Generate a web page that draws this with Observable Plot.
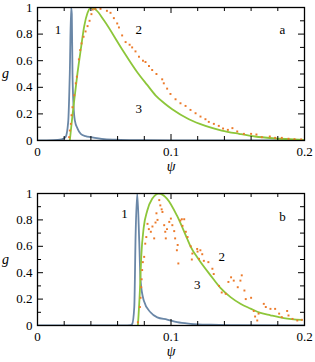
<!DOCTYPE html>
<html><head>
<meta charset="utf-8">
<script src="https://cdn.jsdelivr.net/npm/d3@7"></script>
<script src="https://cdn.jsdelivr.net/npm/@observablehq/plot@0.6"></script>
<style>
body{margin:0;background:#fff;}
#chart svg{display:block;}
#chart svg, #chart svg text, #chart svg g{font-family:"Liberation Serif", serif !important;}
</style>
</head><body><div id="chart"></div>
<script>
// ---- data (psi, g) ----
const aCurve1 = [[0,0],[0.012,0.002],[0.018,0.008],[0.021,0.025],[0.023,0.14],[0.0242,0.51],[0.0252,1.0],[0.0257,0.95],[0.0262,0.51],[0.027,0.26],[0.028,0.15],[0.030,0.09],[0.0324,0.05],[0.036,0.033],[0.040,0.025],[0.05,0.01],[0.062,0.005],[0.08,0.002],[0.1,0.001],[0.2,0]];
const aCurve3 = [[0.0242,0],[0.0262,0.19],[0.0282,0.36],[0.030,0.51],[0.0325,0.69],[0.035,0.86],[0.0375,0.96],[0.040,1.0],[0.044,0.98],[0.05,0.90],[0.0625,0.70],[0.075,0.51],[0.082,0.42],[0.0884,0.34],[0.095,0.28],[0.1009,0.235],[0.1134,0.16],[0.1258,0.11],[0.138,0.075],[0.151,0.050],[0.163,0.030],[0.176,0.017],[0.2,0.005]];
const aCurve2 = [[0.0237,0.025],[0.0242,0.075],[0.025,0.125],[0.0255,0.19],[0.0262,0.25],[0.0275,0.34],[0.0287,0.43],[0.0295,0.48],[0.031,0.61],[0.032,0.68],[0.033,0.73],[0.0345,0.78],[0.036,0.82],[0.0375,0.86],[0.039,0.90],[0.0404,0.95],[0.0414,0.985],[0.0434,0.99],[0.0472,0.99],[0.052,0.975],[0.0547,0.96],[0.0572,0.92],[0.0597,0.88],[0.061,0.85],[0.0634,0.79],[0.066,0.74],[0.069,0.72],[0.0709,0.70],[0.0734,0.67],[0.076,0.63],[0.079,0.60],[0.0809,0.59],[0.0835,0.56],[0.0859,0.53],[0.0891,0.50],[0.0934,0.46],[0.0946,0.43],[0.0971,0.39],[0.0996,0.35],[0.1034,0.31],[0.1071,0.28],[0.1109,0.26],[0.1146,0.23],[0.1184,0.205],[0.1221,0.18],[0.1258,0.16],[0.1283,0.14],[0.1321,0.125],[0.1358,0.11],[0.139,0.09],[0.1426,0.08],[0.146,0.093],[0.1496,0.068],[0.1546,0.05],[0.16,0.05],[0.164,0.045],[0.168,0.025],[0.174,0.03],[0.178,0.02],[0.183,0.02],[0.188,0.013],[0.1925,0.01],[0.1975,0.008]];

const bCurve1 = [[0,0],[0.065,0],[0.0697,0.003],[0.0709,0.01],[0.0725,0.14],[0.0735,0.69],[0.0747,1.0],[0.0762,0.64],[0.0772,0.34],[0.0796,0.19],[0.0846,0.10],[0.0897,0.062],[0.0971,0.045],[0.1046,0.025],[0.1146,0.013],[0.13,0.006],[0.15,0.003],[0.2,0]];
const bCurve3 = [[0.0752,0],[0.0767,0.265],[0.0777,0.52],[0.0796,0.745],[0.0822,0.87],[0.0859,0.96],[0.0909,1.0],[0.0971,0.96],[0.1046,0.83],[0.112,0.66],[0.1146,0.60],[0.1208,0.50],[0.1296,0.38],[0.137,0.285],[0.1446,0.215],[0.152,0.165],[0.1596,0.128],[0.167,0.095],[0.1745,0.077],[0.1845,0.056],[0.198,0.042]];
const bCurve2 = [[0.0752,0.025],[0.0767,0.14],[0.0772,0.21],[0.0777,0.29],[0.078,0.35],[0.0784,0.42],[0.0789,0.48],[0.0799,0.52],[0.0807,0.62],[0.0815,0.67],[0.0824,0.77],[0.0834,0.73],[0.0849,0.71],[0.0861,0.75],[0.0874,0.66],[0.0884,0.78],[0.0891,0.85],[0.0899,0.80],[0.0912,0.95],[0.092,0.91],[0.093,0.88],[0.0936,0.86],[0.0949,0.76],[0.0957,0.71],[0.0961,0.66],[0.097,0.73],[0.0987,0.785],[0.0999,0.81],[0.101,0.76],[0.1024,0.715],[0.1031,0.66],[0.1044,0.57],[0.105,0.61],[0.1055,0.47],[0.107,0.795],[0.1081,0.805],[0.1086,0.755],[0.1099,0.805],[0.1111,0.71],[0.1124,0.67],[0.1148,0.60],[0.1156,0.50],[0.116,0.545],[0.1196,0.58],[0.1199,0.56],[0.121,0.505],[0.122,0.57],[0.1234,0.54],[0.1246,0.49],[0.128,0.48],[0.131,0.43],[0.132,0.39],[0.136,0.30],[0.138,0.25],[0.141,0.24],[0.143,0.33],[0.145,0.365],[0.147,0.34],[0.15,0.29],[0.152,0.34],[0.153,0.38],[0.155,0.265],[0.156,0.20],[0.16,0.21],[0.162,0.11],[0.163,0.068],[0.1646,0.038],[0.1656,0.09],[0.1695,0.164],[0.171,0.14],[0.1745,0.126],[0.178,0.126],[0.181,0.09],[0.183,0.063],[0.187,0.11],[0.188,0.076],[0.191,0.05],[0.1946,0.038],[0.198,0.043]];

const aLabels = [{x:0.0154,y:0.835,t:"1"},{x:0.0759,y:0.835,t:"2"},{x:0.0759,y:0.24,t:"3"},{x:0.1835,y:0.835,t:"a"}];
const bLabels = [{x:0.0652,y:0.845,t:"1"},{x:0.138,y:0.517,t:"2"},{x:0.1196,y:0.305,t:"3"},{x:0.1835,y:0.82,t:"b"}];

const xTickLabels = [0, 0.1, 0.2];
const xMinorTicks = [0.02,0.04,0.06,0.08,0.12,0.14,0.16,0.18];
const xMajorTicks = [0.1];
const yTickLabels = [0, 0.2, 0.4, 0.6, 0.8, 1];
const yMajorTicks = [0.2, 0.4, 0.6, 0.8];
const yMinorTicks = [0.1, 0.3, 0.5, 0.7, 0.9];

const BLUE = "#6a87a7", GREEN = "#8dc63a", ORANGE = "#ec7a2a";
const FONT = "'Liberation Serif', serif";

function panel({c1, c2, c3, labels, height, marginTop, marginBottom}) {
  const W = 315, ml = 37, mr = 11;
  const fh = height - marginTop - marginBottom;
  const fw = W - ml - mr;
  const minorLen = 4, majorLen = 6;
  const fx = d => d;
  return Plot.plot({
    width: W, height, marginLeft: ml, marginRight: mr, marginTop, marginBottom,
    style: {fontFamily: FONT, fontSize: "13px", background: "white", color: "black"},
    x: {domain: [0, 0.2]},
    y: {domain: [0, 1]},
    marks: [
      Plot.line(c1, {x: d => d[0], y: d => d[1], stroke: BLUE, strokeWidth: 1.8, curve: "monotone-x", clip: true}),
      Plot.line(c3, {x: d => d[0], y: d => d[1], stroke: GREEN, strokeWidth: 1.8, curve: "monotone-x", clip: true}),
      Plot.dot(c2, {x: d => d[0], y: d => d[1], r: 1.1, symbol: "square", fill: ORANGE, stroke: null}),
      // inward ticks, all four sides
      Plot.tickX(xMinorTicks, {x: fx, insetTop: fh - minorLen, stroke: "black"}),
      Plot.tickX(xMinorTicks, {x: fx, insetBottom: fh - minorLen, stroke: "black"}),
      Plot.tickX(xMajorTicks, {x: fx, insetTop: fh - majorLen, stroke: "black"}),
      Plot.tickX(xMajorTicks, {x: fx, insetBottom: fh - majorLen, stroke: "black"}),
      Plot.tickY(yMinorTicks, {y: fx, insetRight: fw - minorLen, stroke: "black"}),
      Plot.tickY(yMinorTicks, {y: fx, insetLeft: fw - minorLen, stroke: "black"}),
      Plot.tickY(yMajorTicks, {y: fx, insetRight: fw - majorLen, stroke: "black"}),
      Plot.tickY(yMajorTicks, {y: fx, insetLeft: fw - majorLen, stroke: "black"}),
      Plot.frame({stroke: "black", strokeWidth: 1.3}),
      Plot.axisX({ticks: xTickLabels, tickSize: 0, tickPadding: 6, tickFormat: d => String(d), label: null, fontSize: 13}),
      Plot.axisY({ticks: yTickLabels, tickSize: 0, tickPadding: 5, tickFormat: d => String(d), label: null, fontSize: 13}),
      Plot.text(["ψ"], {frameAnchor: "bottom", dy: 30, text: d => d, fontStyle: "italic", fontSize: 14}),
      Plot.text(["g"], {frameAnchor: "left", dx: -32, text: d => d, fontStyle: "italic", fontSize: 14, textAnchor: "middle"}),
      Plot.text(labels, {x: "x", y: "y", text: "t", fontSize: 13})
    ]
  });
}

const el = document.getElementById("chart");
el.append(panel({c1: aCurve1, c2: aCurve2, c3: aCurve3, labels: aLabels, height: 181, marginTop: 7, marginBottom: 41}));
el.append(panel({c1: bCurve1, c2: bCurve2, c3: bCurve3, labels: bLabels, height: 181, marginTop: 12, marginBottom: 37}));
</script>
</body></html>
